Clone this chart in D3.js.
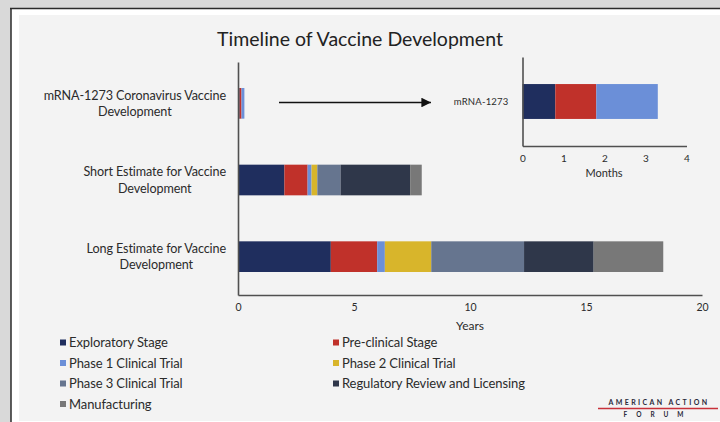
<!DOCTYPE html>
<html><head><meta charset="utf-8">
<script src="https://cdn.jsdelivr.net/npm/d3@7"></script>
<style>
html,body{margin:0;padding:0;background:#d9d9d9;}
svg{display:block;}
text{font-family:Lato,"Open Sans",sans-serif;fill:#2b2b2b;}
</style></head>
<body>
<svg id="chart" width="720" height="422"></svg>
<script>
// ---- data ----
const title = "Timeline of Vaccine Development";
const stages = ["Exploratory Stage","Pre-clinical Stage","Phase 1 Clinical Trial","Phase 2 Clinical Trial","Phase 3 Clinical Trial","Regulatory Review and Licensing","Manufacturing"];
const stageColors = ["#1f2e5e","#c0312a","#6b8fd8","#d8b52b","#66758f","#2f374a","#787878"];
const categories = [
  ["mRNA-1273 Coronavirus Vaccine","Development"],
  ["Short Estimate for Vaccine","Development"],
  ["Long Estimate for Vaccine","Development"]
];
// years per stage
const mrnaYears  = [0.8/12, 1.0/12, 1.5/12, 0, 0, 0, 0];
const shortYears = [2, 1, 0.17, 0.25, 1, 3, 0.5];
const longYears  = [4, 2, 0.33, 2, 4, 3, 3];
const yearTicks = [0,5,10,15,20];
const xLabel = "Years";
// inset (months)
const insetCategory = "mRNA-1273";
const insetMonths = [0.8, 1.0, 1.5];
const monthTicks = [0,1,2,3,4];
const insetLabel = "Months";

const svg = d3.select("#chart");

// ---- frame ----
svg.append("rect").attr("x",0).attr("y",0).attr("width",720).attr("height",422).attr("fill","#d9d9d9");
svg.append("rect").attr("x",11).attr("y",8).attr("width",720).attr("height",420).attr("fill","#ffffff");
svg.append("line").attr("x1",10).attr("x2",720).attr("y1",8.5).attr("y2",8.5).attr("stroke","#2a2a2a").attr("stroke-width",1.5);
svg.append("line").attr("x1",11).attr("x2",11).attr("y1",8).attr("y2",422).attr("stroke","#2a2a2a").attr("stroke-width",1.5);
svg.append("rect").attr("x",19).attr("y",15).attr("width",701).attr("height",406).attr("fill","#f3f3f3");

// ---- title ----
svg.append("text").attr("x",360).attr("y",46).attr("text-anchor","middle")
  .style("font-size","19.5px").style("fill","#222").text(title);

// ---- main chart ----
const x = d3.scaleLinear().domain([0,20]).range([238,702]);
const catIdx = d3.range(categories.length);
const y = d3.scaleBand().domain(catIdx).range([65,295]).paddingInner(0.6).paddingOuter(0.3);
const seriesByCat = [mrnaYears, shortYears, longYears];

catIdx.forEach(ci=>{
  let acc = 0;
  const segs = seriesByCat[ci].map((v,si)=>{const s={x0:acc,x1:acc+v,c:stageColors[si]}; acc+=v; return s;}).filter(s=>s.x1>s.x0);
  svg.append("g").selectAll("rect").data(segs).join("rect")
    .attr("x",d=>x(d.x0)).attr("width",d=>x(d.x1)-x(d.x0))
    .attr("y",y(ci)).attr("height",y.bandwidth()).attr("fill",d=>d.c);
});

// axes
const xAxis = svg.append("g").attr("transform","translate(0,295)")
  .call(d3.axisBottom(x).tickValues(yearTicks).tickFormat(d3.format("d")).tickSize(0).tickPadding(9));
xAxis.select(".domain").attr("stroke","#505050").attr("stroke-width",1.6);
xAxis.selectAll("text").style("font-size","10.5px").style("font-family","Lato,sans-serif").attr("fill","#333");
const yAxis = svg.append("g").attr("transform","translate(238,0)")
  .call(d3.axisLeft(d3.scaleLinear().range([62,295])).ticks(0).tickSize(0));
yAxis.select(".domain").attr("stroke","#505050").attr("stroke-width",1.6);
svg.append("text").attr("x",470).attr("y",330).attr("text-anchor","middle")
  .style("font-size","12px").text(xLabel);

// category labels (lines centred, block right-aligned at x=226)
catIdx.forEach(ci=>{
  const g = svg.append("g");
  const cy = y(ci)+y.bandwidth()/2;
  const lines = categories[ci];
  const t = g.append("text").style("font-size","12.6px").style("letter-spacing","-0.1px").attr("text-anchor","middle");
  lines.forEach((l,li)=>{
    t.append("tspan").attr("x",0).attr("y",cy + (li - (lines.length-1)/2)*16.5 + 4.5).text(l);
  });
  let maxW = 0;
  t.selectAll("tspan").each(function(){maxW=Math.max(maxW,this.getComputedTextLength());});
  t.selectAll("tspan").attr("x",226 - maxW/2);
});

// arrow
svg.append("defs").append("marker").attr("id","ah").attr("viewBox","0 0 10 10")
  .attr("refX",10).attr("refY",5).attr("markerWidth",6).attr("markerHeight",6).attr("orient","auto")
  .append("path").attr("d","M0,0L10,5L0,10Z").attr("fill","#111");
svg.append("line").attr("x1",279).attr("x2",431).attr("y1",102.5).attr("y2",102.5)
  .attr("stroke","#111").attr("stroke-width",1.6).attr("marker-end","url(#ah)");

// ---- inset ----
const xi = d3.scaleLinear().domain([0,4]).range([522.5,686.5]);
const yi = d3.scaleBand().domain([insetCategory]).range([57,146]).paddingInner(0.6).paddingOuter(0.31);
let accI = 0;
const insetSegs = insetMonths.map((v,si)=>{const s={x0:accI,x1:accI+v,c:stageColors[si]}; accI+=v; return s;});
svg.append("g").selectAll("rect").data(insetSegs).join("rect")
  .attr("x",d=>xi(d.x0)).attr("width",d=>xi(d.x1)-xi(d.x0))
  .attr("y",yi(insetCategory)).attr("height",yi.bandwidth()).attr("fill",d=>d.c);
const xiAxis = svg.append("g").attr("transform","translate(0,146)")
  .call(d3.axisBottom(xi).tickValues(monthTicks).tickFormat(d3.format("d")).tickSize(0).tickPadding(9));
xiAxis.select(".domain").attr("stroke","#505050").attr("stroke-width",1.6);
xiAxis.selectAll("text").style("font-size","10px").style("font-family","Lato,sans-serif").attr("fill","#333");
const yiAxis = svg.append("g").attr("transform","translate(522.5,0)")
  .call(d3.axisLeft(yi).tickSize(0).tickPadding(14));
yiAxis.select(".domain").attr("stroke","#505050").attr("stroke-width",1.6);
yiAxis.selectAll("text").style("font-size","9.5px").style("letter-spacing","0.2px").style("font-family","Lato,sans-serif").attr("fill","#333");
svg.append("text").attr("x",604).attr("y",177).attr("text-anchor","middle")
  .style("font-size","11px").text(insetLabel);

// ---- legend ----
const legX = [60, 333];
const legY0 = 342.5, legDy = 20.5;
const leg = svg.append("g").selectAll("g").data(stages).join("g")
  .attr("transform",(d,i)=>`translate(${legX[i%2]},${legY0 + Math.floor(i/2)*legDy})`);
leg.append("rect").attr("x",0).attr("y",-3).attr("width",6).attr("height",6).attr("fill",(d,i)=>stageColors[i]);
leg.append("text").attr("x",9).attr("y",4.5).style("font-size","13px").style("letter-spacing","-0.1px").text(d=>d);

// ---- logo ----
svg.append("text").attr("x",659).attr("y",405).attr("text-anchor","middle")
  .style("font-size","7px").style("font-weight","bold").style("letter-spacing","2.4px").style("fill","#2a2a3a").text("AMERICAN ACTION");
svg.append("line").attr("x1",598).attr("x2",718).attr("y1",408.5).attr("y2",408.5).attr("stroke","#c8313a").attr("stroke-width",1.5);
svg.append("text").attr("x",658).attr("y",417).attr("text-anchor","middle")
  .style("font-size","6.5px").style("font-weight","bold").style("letter-spacing","9px").style("fill","#2a2a3a").text("FORUM");
</script>
</body></html>
